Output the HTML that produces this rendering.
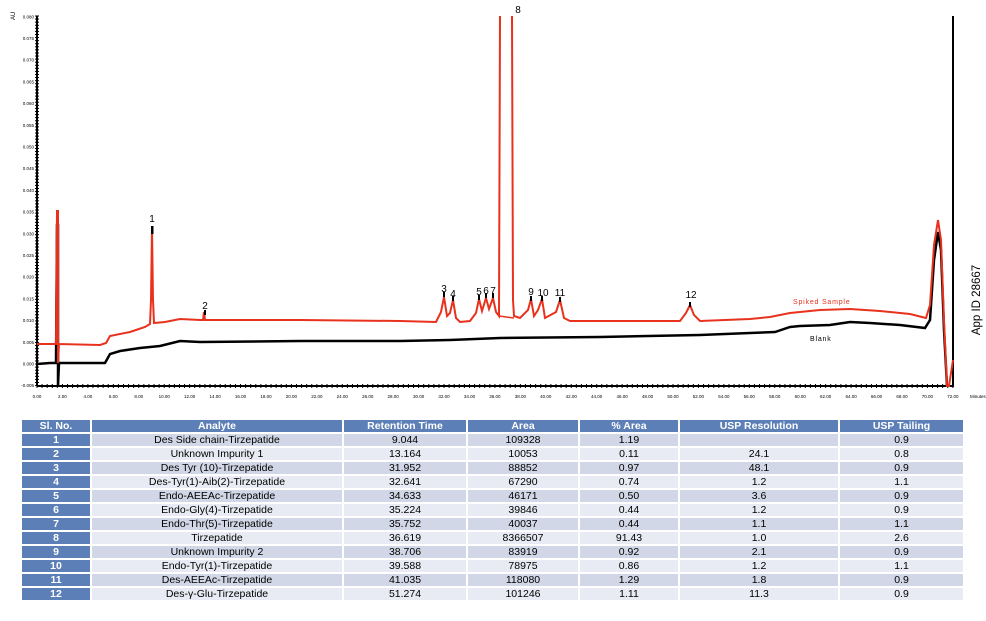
<!DOCTYPE html>
<html><head><meta charset="utf-8"><style>
body{margin:0;background:#fff;width:986px;height:621px;overflow:hidden;font-family:"Liberation Sans",sans-serif}
svg{position:absolute;left:0;top:0}
table{position:absolute;left:20px;top:418px;border-collapse:separate;border-spacing:2px 2px;font-size:10.5px;font-family:"Liberation Sans",sans-serif}
td,th{height:12px;padding:0;text-align:center;line-height:12px}
th{background:#5b7fb6;color:#fff;font-weight:bold}
td.n{background:#5b7fb6;color:#fff;font-weight:bold}
tr.o td{background:#d1d7e6}
tr.e td{background:#e8ebf3}
tr.o td.n,tr.e td.n{background:#5b7fb6}
</style></head><body>
<svg width="986" height="410" id="s" xmlns="http://www.w3.org/2000/svg">
<g id="ticks"></g>
<line x1="37" y1="16" x2="37" y2="386" stroke="#000" stroke-width="2"/>
<line x1="37" y1="386" x2="954" y2="386" stroke="#000" stroke-width="2"/>
<line x1="953" y1="16" x2="953" y2="386" stroke="#000" stroke-width="2"/>
<text x="13" y="22" font-size="6" transform="rotate(-90 13 20)">AU</text>
<polyline fill="none" stroke="#000" stroke-width="2.5" points="37,364 50,363 56,363 57,225 58,225 58,386 59,363 70,363 105,363 110,354 120,351 140,348 160,346 180,341 200,342 300,341 400,341 450,340 500,338 600,337 700,335 750,333 775,332 790,327 800,326 830,325 850,322 870,323 900,325 925,328 930,320 934,260 938,232 941,250 944,330 947,386"/>
<polyline fill="none" stroke="#e8321e" stroke-width="2" points="37,344 56,344 57,211 58,211 58,363 59,344 100,345 106,343 110,336 130,332 145,327 150,324 151,300 152,228 153,300 154,323 165,322 180,319 200,320 203,320 204,312 205,320 300,320 400,321 436,322 441,312 444,297 447,316 450,313 453,300 456,318 460,322 470,321 476,313 479,299 482,311 486,298 489,309 493,298 496,312 499,316 500,16"/>
<polyline fill="none" stroke="#e8321e" stroke-width="2" points="512,16 513,300 514,316 520,318 528,310 531,299 534,316 538,310 542,299 545,318 556,312 560,300 564,318 570,321 680,321 686,313 690,305 694,315 700,321 750,319 770,317 790,313 810,311 820,310 850,309 880,311 910,314 926,318 930,305 934,245 938,220 941,240 944,320 947,386 949,386 953,360"/>
<polyline fill="none" stroke="#e8321e" stroke-width="1.5" points="499,316 514,318"/>
<g fill="#000" font-size="10" text-anchor="middle" font-family="Liberation Sans,sans-serif">
<rect x="151" y="226" width="2.5" height="8"/><text x="152" y="222">1</text>
<rect x="204" y="310" width="2" height="5"/><text x="205" y="309">2</text>
<rect x="443" y="292" width="2" height="5"/><text x="444" y="292">3</text>
<rect x="452" y="296" width="2" height="5"/><text x="453" y="297">4</text>
<rect x="478" y="295" width="2" height="5"/><text x="479" y="295">5</text>
<rect x="485" y="293" width="2" height="5"/><text x="486" y="294">6</text>
<rect x="492" y="293" width="2" height="5"/><text x="493" y="294">7</text>
<text x="518" y="13">8</text>
<rect x="530" y="296" width="2" height="5"/><text x="531" y="295">9</text>
<rect x="541" y="296" width="2" height="5"/><text x="543" y="296">10</text>
<rect x="559" y="297" width="2" height="5"/><text x="560" y="296">11</text>
<rect x="689" y="302" width="2" height="5"/><text x="691" y="298">12</text>
</g>
<text x="793" y="304" font-size="7" fill="#e8321e" letter-spacing="0.8">Spiked Sample</text>
<text x="810" y="341" font-size="7" fill="#000" letter-spacing="0.8">Blank</text>
<text x="980" y="300" font-size="11.5" text-anchor="middle" transform="rotate(-90 980 300)">App ID 28667</text>
</svg>
<script>
var g=document.getElementById('ticks'),h='';
for(var i=0;i<=36;i++){var t=i*2,x=37+t*12.72;h+='<text x="'+x+'" y="398" font-size="4.5" text-anchor="middle">'+t.toFixed(2)+'</text>';}
for(var i=0;i<=180;i++){var x=37+i*0.4*12.72;h+='<line x1="'+x+'" y1="384" x2="'+x+'" y2="388" stroke="#000" stroke-width="1"/>';}
h+='<text x="970" y="398" font-size="4.5">Minutes</text>';
for(var j=-1;j<=16;j++){var v=j*0.005,y=363.5-v*4340;h+='<text x="34" y="'+(y+2)+'" font-size="4.5" text-anchor="end">'+v.toFixed(3)+'</text>';}
for(var k=0;k<=120;k++){var y=16+k*3.08;h+='<line x1="35" y1="'+y+'" x2="39" y2="'+y+'" stroke="#000" stroke-width="1"/>';}
g.innerHTML=h;
</script>
<table>
<tr><th style="width:68px">Sl. No.</th><th style="width:250px">Analyte</th><th style="width:122px">Retention Time</th><th style="width:110px">Area</th><th style="width:98px">% Area</th><th style="width:158px">USP Resolution</th><th style="width:123px">USP Tailing</th></tr>
<tr class="o"><td class="n">1</td><td>Des Side chain-Tirzepatide</td><td>9.044</td><td>109328</td><td>1.19</td><td></td><td>0.9</td></tr>
<tr class="e"><td class="n">2</td><td>Unknown Impurity 1</td><td>13.164</td><td>10053</td><td>0.11</td><td>24.1</td><td>0.8</td></tr>
<tr class="o"><td class="n">3</td><td>Des Tyr (10)-Tirzepatide</td><td>31.952</td><td>88852</td><td>0.97</td><td>48.1</td><td>0.9</td></tr>
<tr class="e"><td class="n">4</td><td>Des-Tyr(1)-Aib(2)-Tirzepatide</td><td>32.641</td><td>67290</td><td>0.74</td><td>1.2</td><td>1.1</td></tr>
<tr class="o"><td class="n">5</td><td>Endo-AEEAc-Tirzepatide</td><td>34.633</td><td>46171</td><td>0.50</td><td>3.6</td><td>0.9</td></tr>
<tr class="e"><td class="n">6</td><td>Endo-Gly(4)-Tirzepatide</td><td>35.224</td><td>39846</td><td>0.44</td><td>1.2</td><td>0.9</td></tr>
<tr class="o"><td class="n">7</td><td>Endo-Thr(5)-Tirzepatide</td><td>35.752</td><td>40037</td><td>0.44</td><td>1.1</td><td>1.1</td></tr>
<tr class="e"><td class="n">8</td><td>Tirzepatide</td><td>36.619</td><td>8366507</td><td>91.43</td><td>1.0</td><td>2.6</td></tr>
<tr class="o"><td class="n">9</td><td>Unknown Impurity 2</td><td>38.706</td><td>83919</td><td>0.92</td><td>2.1</td><td>0.9</td></tr>
<tr class="e"><td class="n">10</td><td>Endo-Tyr(1)-Tirzepatide</td><td>39.588</td><td>78975</td><td>0.86</td><td>1.2</td><td>1.1</td></tr>
<tr class="o"><td class="n">11</td><td>Des-AEEAc-Tirzepatide</td><td>41.035</td><td>118080</td><td>1.29</td><td>1.8</td><td>0.9</td></tr>
<tr class="e"><td class="n">12</td><td>Des-γ-Glu-Tirzepatide</td><td>51.274</td><td>101246</td><td>1.11</td><td>11.3</td><td>0.9</td></tr>
</table>
</body></html>
